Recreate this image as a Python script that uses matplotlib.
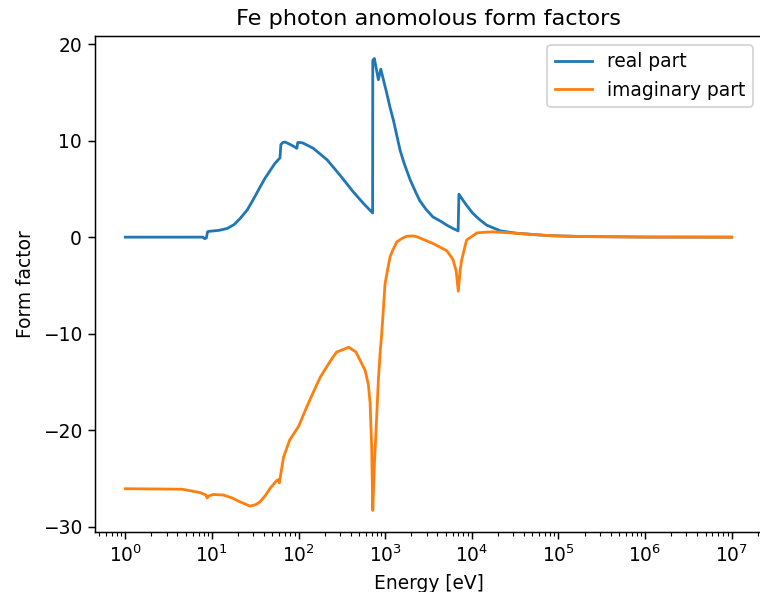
import matplotlib
matplotlib.use("Agg")
import matplotlib.pyplot as plt

# Real part (blue) : energy [eV], value
real_energy = [1.0, 4.0, 7.9, 8.2, 8.6, 8.9, 9.2, 12, 15, 18, 21, 25.5, 30, 36, 41, 47, 53, 58, 61,
               62.5, 66, 70, 80, 90, 95.5, 98, 105, 112, 148, 214, 302, 427, 560, 700, 716,
               719, 750, 834, 890, 960, 1043, 1140, 1245, 1486, 1660, 1950, 2240, 2500, 2950,
               3550, 4470, 5130, 6050, 6950,
               7100, 7940, 8700, 10200, 12000, 14800, 17800, 21400, 33000, 80000, 2.0e5, 1.0e6, 1.0e7]
real_value = [0.0, 0.0, 0.0, -0.15, -0.1, 0.55, 0.6, 0.7, 0.9, 1.3, 1.9, 2.8, 3.9, 5.2, 6.1, 6.9, 7.6, 8.0, 8.2,
              9.6, 9.8, 9.85, 9.6, 9.35, 9.2, 9.8, 9.8, 9.75, 9.2, 8.0, 6.4, 4.7, 3.5, 2.6, 2.5,
              18.3, 18.5, 16.3, 17.4, 16.2, 14.9, 13.4, 12.1, 9.0, 7.6, 5.9, 4.7, 3.8, 2.9,
              2.1, 1.6, 1.25, 0.9, 0.65,
              4.45, 3.8, 3.3, 2.5, 1.9, 1.25, 0.95, 0.65, 0.4, 0.15, 0.06, 0.01, 0.0]

# Imaginary part (orange) : energy [eV], value
imag_energy = [1.0, 4.5, 7.3, 8.5, 8.8, 9.2, 10.3, 13.5, 17, 21, 27.5, 32, 36, 41, 47, 56, 59, 60,
               67, 79, 95, 100, 124, 149, 178, 212, 242, 275, 380, 460, 587, 640, 670, 698, 719,
               750, 785, 834, 873, 912, 997, 1070, 1138, 1230, 1361, 1550, 1775, 2090, 2312,
               3550, 5130, 6050, 6600, 6980, 7300, 7620, 8700, 11500, 17400, 27500, 80000,
               2.0e5, 1.0e6, 1.0e7]
imag_value = [-26.05, -26.1, -26.45, -26.7, -27.0, -26.8, -26.65, -26.7, -27.0, -27.4, -27.85, -27.7, -27.4, -26.8, -26.0, -25.2, -25.1, -25.45,
              -22.8, -21.0, -19.9, -19.6, -17.6, -16.0, -14.5, -13.4, -12.6, -11.9, -11.4, -11.9, -13.8, -15.3, -17.2, -21.7, -28.3,
              -23.5, -20.0, -14.8, -12.05, -10.0, -4.8, -3.3, -2.05, -1.3, -0.5, -0.15, 0.1, 0.12, 0.05,
              -0.65, -1.4, -2.3, -3.5, -5.6, -3.6, -2.4, -0.3, 0.45, 0.55, 0.45, 0.15,
              0.06, 0.01, 0.0]

dpi = 134
fig = plt.figure(figsize=(760 / dpi, 592 / dpi), dpi=dpi)
ax = fig.add_axes([95 / 760, (592 - 531.7) / 592, 667 / 760, (531.7 - 35.7) / 592])

ax.plot(real_energy, real_value, color="#1f77b4", label="real part")
ax.plot(imag_energy, imag_value, color="#ff7f0e", label="imaginary part")
ax.set_xscale("log")
ax.set_xlim(10 ** -0.35, 10 ** 7.35)
ax.set_ylim(-30.5, 20.86)
ax.set_xlabel("Energy [eV]")
ax.set_ylabel("Form factor")
ax.set_title("Fe photon anomolous form factors")
ax.legend(loc="upper right")

fig.savefig("out.png", dpi=dpi)
